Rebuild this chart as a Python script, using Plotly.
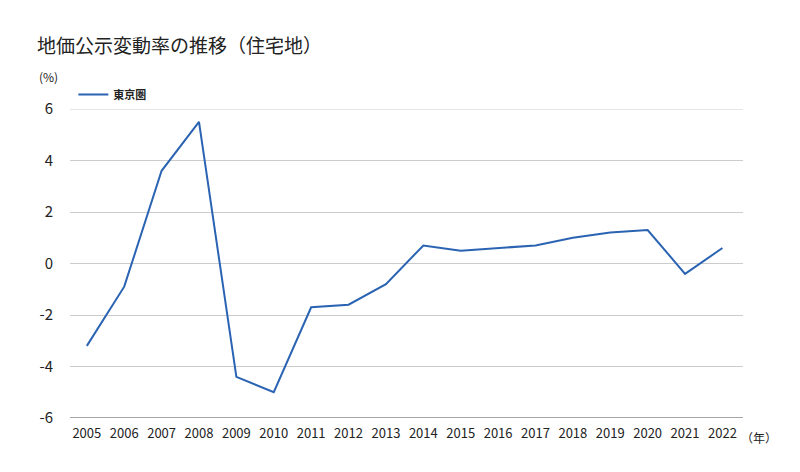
import plotly.graph_objects as go

years = [str(y) for y in range(2005, 2023)]
tokyo = [-3.2, -0.9, 3.6, 5.5, -4.4, -5.0, -1.7, -1.6, -0.8, 0.7, 0.5, 0.6, 0.7, 1.0, 1.2, 1.3, -0.4, 0.6]
y_ticks = [-6, -4, -2, 0, 2, 4, 6]
y_tick_labels = ["-6", "-4", "-2", "0", "2", "4", "6"]

FONT = "Noto Sans CJK JP"

fig = go.Figure()
fig.add_trace(go.Scatter(x=years, y=tokyo, mode="lines", name="<b>東京圏</b>",
                         line=dict(color="#2b63b3", width=2)))

fig.update_layout(
    width=800, height=472,
    paper_bgcolor="white", plot_bgcolor="white",
    margin=dict(l=70, r=57, t=109, b=54),
    font=dict(family=FONT, color="#222"),
    title=dict(text="地価公示変動率の推移（住宅地）", x=37 / 800, xref="container", xanchor="left",
               y=1 - 46 / 472, yanchor="middle", font=dict(size=19, family=FONT, color="#222")),
    showlegend=True,
    legend=dict(x=0.005, y=1.0, xanchor="left", yanchor="bottom", orientation="h",
                font=dict(size=11, family=FONT, color="#222"), bgcolor="rgba(0,0,0,0)"),
    xaxis=dict(type="category", range=[-0.45, 17.55], showgrid=False, showline=False,
               ticks="", tickfont=dict(size=13, family=FONT, color="#222"), ticklabelstandoff=6),
    yaxis=dict(range=[-6, 6], tickvals=y_ticks, ticktext=y_tick_labels, showgrid=True,
               gridcolor="#cccccc", gridwidth=1, zeroline=False, showline=False, ticks="",
               tickfont=dict(size=15, family=FONT, color="#222"), ticklabelstandoff=16),
)
fig.add_shape(type="line", xref="paper", yref="y", x0=0, x1=1, y0=6, y1=6,
              line=dict(color="#cccccc", width=1), layer="below")
fig.add_shape(type="line", xref="paper", yref="y", x0=0, x1=1, y0=-6, y1=-6,
              line=dict(color="#888888", width=1.5))
fig.add_annotation(text="(%)", xref="paper", yref="paper", x=-33 / 673, y=1 + 33 / 309,
                   xanchor="left", yanchor="middle", showarrow=False,
                   font=dict(size=12, family=FONT, color="#222"))
fig.add_annotation(text="（年）", xref="paper", yref="paper", x=1 - 4 / 673, y=-19 / 309,
                   xanchor="left", yanchor="middle", showarrow=False,
                   font=dict(size=12, family=FONT, color="#222"))
fig.write_html("out.html")
